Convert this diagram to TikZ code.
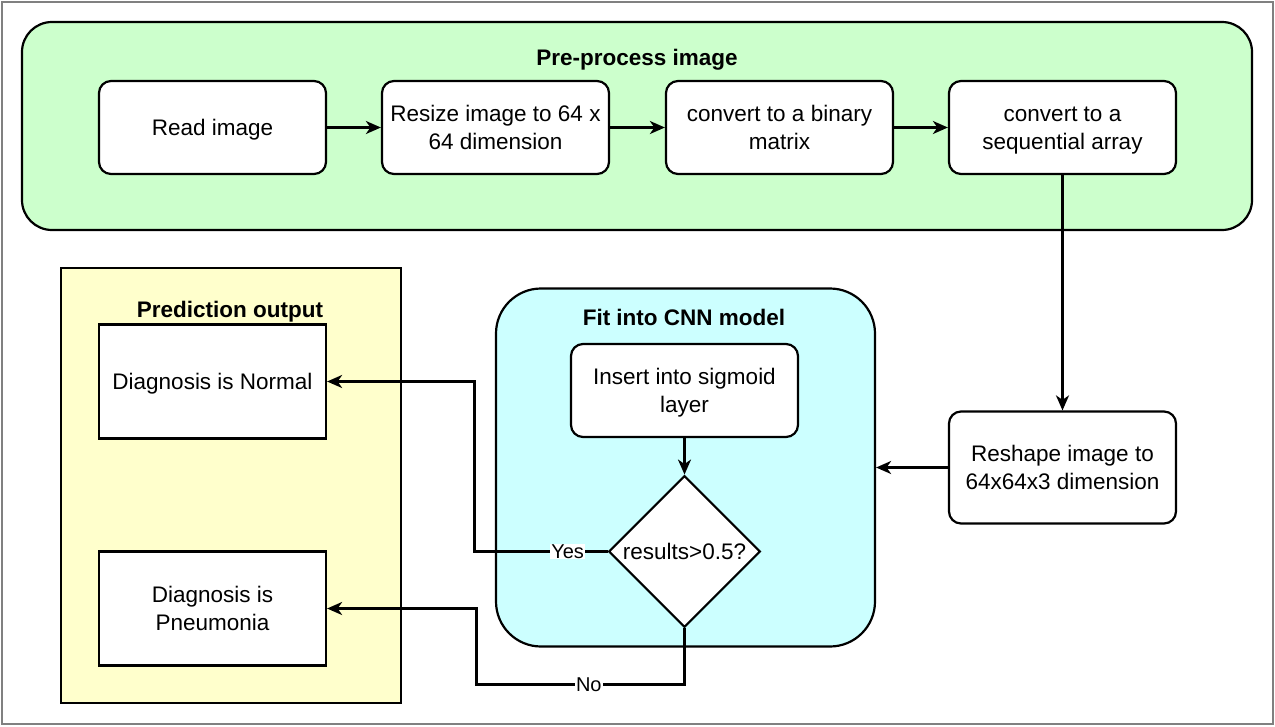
\documentclass[tikz,border=0pt]{standalone}
\usepackage{fontspec}
\setmainfont{Liberation Sans}
\usetikzlibrary{arrows.meta,shapes.geometric}
\definecolor{cgreen}{HTML}{CCFFCC}
\definecolor{ccyan}{HTML}{CCFFFF}
\definecolor{cyellow}{HTML}{FFFFCC}
\newcommand\ls{\rule[-6.25pt]{0pt}{28.5pt}}
\begin{document}
\begin{tikzpicture}[x=1pt,y=-1pt,
  font=\fontsize{22.5}{28.5}\selectfont,
  rbox/.style={draw, line width=2.2pt, fill=white, rounded corners=12pt, minimum width=227pt, minimum height=93pt, align=center, inner sep=0pt},
  sbox/.style={draw, line width=2.2pt, fill=white, minimum width=227pt, minimum height=114pt, align=center, inner sep=0pt},
  cont/.style={draw, line width=2.2pt, inner sep=0pt},
  arr/.style={line width=2.5pt, -{Stealth[length=15pt,width=13pt,inset=4.5pt]}},
  lbl/.style={fill=white, inner sep=1pt, font=\fontsize{20}{24}\selectfont},
  ttl/.style={font=\fontsize{22.5}{27}\selectfont\bfseries, inner sep=0pt, anchor=base}
]
\useasboundingbox (0,0) rectangle (1275,726);
\draw[black!50, line width=2pt] (2,2) rectangle (1273,724);

% containers
\node[cont, fill=cgreen, rounded corners=30pt, minimum width=1230pt, minimum height=208pt] (pre) at (637,126) {};
\node[cont, fill=ccyan, rounded corners=45pt, minimum width=379pt, minimum height=358pt] (cnn) at (685.5,467.5) {};
\node[cont, fill=cyellow, minimum width=340pt, minimum height=435pt] (pred) at (231,485.5) {};

% titles
\node[ttl] (tpre) at (637,65) {Pre-process image};
\node[ttl] (tcnn) at (684,325) {Fit into CNN model};
\node[ttl] (tpred) at (230,317) {Prediction output};

% pre-process steps
\node[rbox] (read) at (212.5,127.5) {\ls Read image};
\node[rbox] (resize) at (495.5,127.5) {\ls Resize image to 64 x\\\ls 64 dimension};
\node[rbox] (binary) at (779.5,127.5) {\ls convert to a binary\\\ls matrix};
\node[rbox] (seq) at (1062.5,127.5) {\ls convert to a\\\ls sequential array};

% reshape
\node[rbox, minimum height=112pt] (reshape) at (1062.5,467.5) {\ls Reshape image to\\\ls 64x64x3 dimension};

% CNN
\node[rbox] (sig) at (684.5,390.5) {\ls Insert into sigmoid\\\ls layer};
\node[draw, line width=2.2pt, fill=white, diamond, minimum width=150pt, minimum height=148pt, inner sep=0pt] (dia) at (684.5,551.5) {\ls results>0.5?};

% outputs
\node[sbox] (norm) at (212.5,381.5) {\ls Diagnosis is Normal};
\node[sbox] (pneu) at (212.5,608.5) {\ls Diagnosis is\\\ls Pneumonia};

% connectors
\draw[arr] (read) -- (resize);
\draw[arr] (resize) -- (binary);
\draw[arr] (binary) -- (seq);
\draw[arr] (seq.south) -- (reshape.north);
\draw[arr] (reshape.west) -- (cnn.east);
\draw[arr] (sig.south) -- (dia.north);
\draw[arr] (dia.west) -- node[lbl, pos=0.3] {Yes} ++(-133,0) |- (norm.east);
\draw[arr] (dia.south) |- node[lbl, pos=0.73] {No} (476.5,684.5) |- (pneu.east);
\end{tikzpicture}
\end{document}
